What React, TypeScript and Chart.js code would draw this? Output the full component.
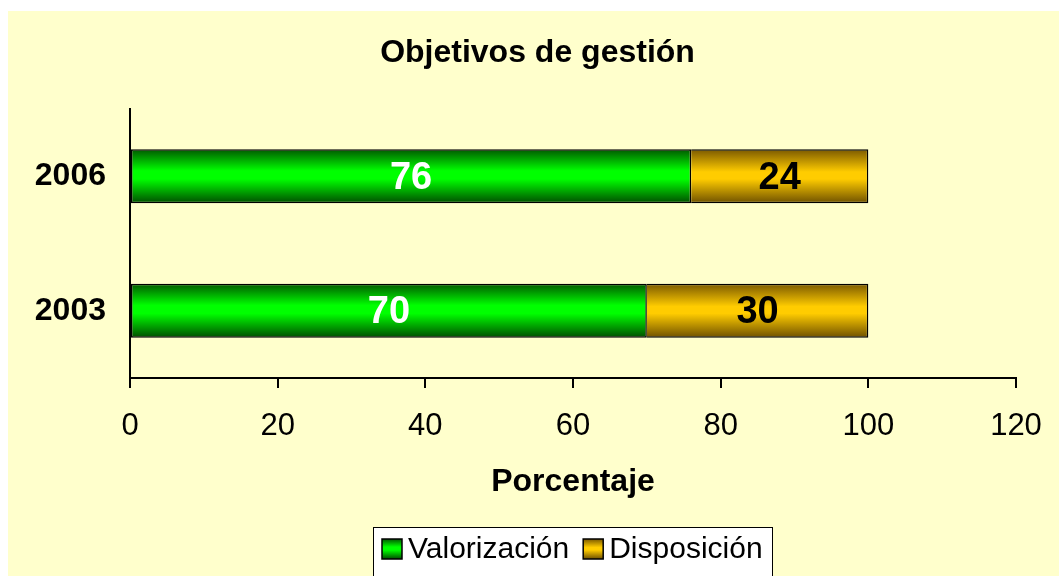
import React, { useEffect, useRef } from "react";
import { Chart, registerables } from "chart.js";

Chart.register(...registerables);

const categories = ["2006", "2003"];
const valorizacion = [76, 70];
const disposicion = [24, 30];
const xTicks = [0, 20, 40, 60, 80, 100, 120];
const seriesNames = ["Valorización", "Disposición"];
const titleText = "Objetivos de gestión";
const xTitle = "Porcentaje";

const FONT = "'Liberation Sans', Arial, sans-serif";
const BG = "#FFFFCC";

const greenStops: [number, string][] = [
  [0, "#005800"],
  [0.4, "#00ff00"],
  [0.55, "#00ff00"],
  [1, "#004c00"],
];
const goldStops: [number, string][] = [
  [0, "#7a5800"],
  [0.42, "#ffcc00"],
  [0.55, "#ffcc00"],
  [1, "#6e5000"],
];

function makeGrad(ctx: CanvasRenderingContext2D, y0: number, y1: number, stops: [number, string][]) {
  const g = ctx.createLinearGradient(0, y0, 0, y1);
  stops.forEach(([o, c]) => g.addColorStop(o, c));
  return g;
}

const BAR_PCT = 0.402;

function barFill(stops: [number, string][], fallback: string) {
  return (c: any) => {
    const chart = c.chart;
    const ys = chart.scales?.y;
    if (!ys || c.dataIndex === undefined || !chart.chartArea) return fallback;
    const center = ys.getPixelForValue(c.dataIndex);
    const cat = (ys.bottom - ys.top) / categories.length;
    const h = cat * BAR_PCT;
    return makeGrad(chart.ctx, center - h / 2, center + h / 2, stops);
  };
}

const bgPlugin = {
  id: "bgPlugin",
  beforeDraw(chart: any) {
    const { ctx } = chart;
    ctx.save();
    ctx.fillStyle = BG;
    ctx.fillRect(8, 11, chart.width - 8, chart.height - 11);
    ctx.fillStyle = "#000";
    ctx.font = `bold 32px ${FONT}`;
    ctx.textAlign = "center";
    ctx.textBaseline = "middle";
    ctx.fillText(titleText, 537.5, 53);
    ctx.restore();
  },
};

const valueLabels = {
  id: "valueLabels",
  afterDatasetsDraw(chart: any) {
    const { ctx } = chart;
    ctx.save();
    ctx.font = `bold 38px ${FONT}`;
    ctx.textAlign = "center";
    ctx.textBaseline = "middle";
    chart.data.datasets.forEach((ds: any, di: number) => {
      const meta = chart.getDatasetMeta(di);
      meta.data.forEach((el: any, i: number) => {
        const { x, y, base } = el.getProps(["x", "y", "base"], true);
        ctx.fillStyle = di === 0 ? "#ffffff" : "#000000";
        ctx.fillText(String(ds.data[i]), (x + base) / 2, y + 2);
      });
    });
    ctx.restore();
  },
};

const boxLegend = {
  id: "boxLegend",
  afterDraw(chart: any) {
    const { ctx } = chart;
    ctx.save();
    const bx = 373.5, by = 527.5, bw = 399, bh = 60;
    ctx.fillStyle = "#ffffff";
    ctx.fillRect(bx, by, bw, bh);
    ctx.strokeStyle = "#000";
    ctx.lineWidth = 1;
    ctx.strokeRect(bx, by, bw, bh);
    ctx.font = `30px ${FONT}`;
    ctx.textBaseline = "middle";
    ctx.textAlign = "left";
    let x = 382;
    const sq = 20;
    const cy = 549;
    const stopsList = [greenStops, goldStops];
    seriesNames.forEach((name, i) => {
      ctx.fillStyle = makeGrad(ctx, cy - sq / 2, cy + sq / 2, stopsList[i]);
      ctx.fillRect(x, cy - sq / 2, sq, sq);
      ctx.lineWidth = 1.5;
      ctx.strokeStyle = "#000";
      ctx.strokeRect(x, cy - sq / 2, sq, sq);
      x += sq + 6;
      ctx.fillStyle = "#000";
      ctx.fillText(name, x, cy + 1);
      x += ctx.measureText(name).width + 14;
    });
    ctx.restore();
  },
};

export default function App() {
  const ref = useRef<HTMLCanvasElement | null>(null);
  useEffect(() => {
    if (!ref.current) return;
    const chart = new Chart(ref.current, {
      type: "bar",
      data: {
        labels: categories,
        datasets: [
          {
            label: seriesNames[0],
            data: valorizacion,
            backgroundColor: barFill(greenStops, "#00dd00"),
            borderColor: "#000",
            borderWidth: 1.5,
            borderSkipped: false,
            barPercentage: BAR_PCT,
            categoryPercentage: 1,
          },
          {
            label: seriesNames[1],
            data: disposicion,
            backgroundColor: barFill(goldStops, "#e0b000"),
            borderColor: "#000",
            borderWidth: { top: 1.5, bottom: 1.5, right: 1.5, left: 0 },
            borderSkipped: false,
            barPercentage: BAR_PCT,
            categoryPercentage: 1,
          },
        ],
      },
      options: {
        indexAxis: "y",
        animation: false,
        responsive: false,
        devicePixelRatio: 1,
        layout: { padding: { left: 8, right: 43, top: 109, bottom: 58 } },
        plugins: {
          legend: { display: false },
          tooltip: { enabled: false },
          title: { display: false },
        },
        scales: {
          x: {
            type: "linear",
            stacked: true,
            min: 0,
            max: 120,
            afterBuildTicks: (s: any) => {
              s.ticks = xTicks.map((v) => ({ value: v }));
            },
            afterFit: (s: any) => {
              s.height = 140;
              s.paddingRight = 0;
              s.paddingLeft = 0;
            },
            grid: {
              display: true,
              drawOnChartArea: false,
              drawTicks: true,
              tickLength: 10,
              color: "#000",
              lineWidth: 2,
            },
            border: { display: true, color: "#000", width: 2 },
            ticks: {
              color: "#000",
              font: { family: FONT, size: 31 },
              padding: 20,
              maxRotation: 0,
            },
            title: {
              display: true,
              text: xTitle,
              color: "#000",
              font: { family: FONT, size: 32, weight: "bold", lineHeight: 1.2 },
              padding: { top: 0, bottom: 17 },
            },
          },
          y: {
            type: "category",
            stacked: true,
            afterFit: (s: any) => {
              s.width = 122;
            },
            grid: { display: false, drawTicks: false },
            border: { display: true, color: "#000", width: 2 },
            ticks: {
              color: "#000",
              font: { family: FONT, size: 32, weight: "bold" },
              padding: 24,
            },
          },
        },
      },
      plugins: [bgPlugin, valueLabels, boxLegend],
    });
    return () => chart.destroy();
  }, []);
  return (
    <div style={{ position: "fixed", left: 0, top: 0, width: 1059, height: 576 }}>
      <canvas ref={ref} width={1059} height={576} style={{ display: "block", width: 1059, height: 576 }} />
    </div>
  );
}
